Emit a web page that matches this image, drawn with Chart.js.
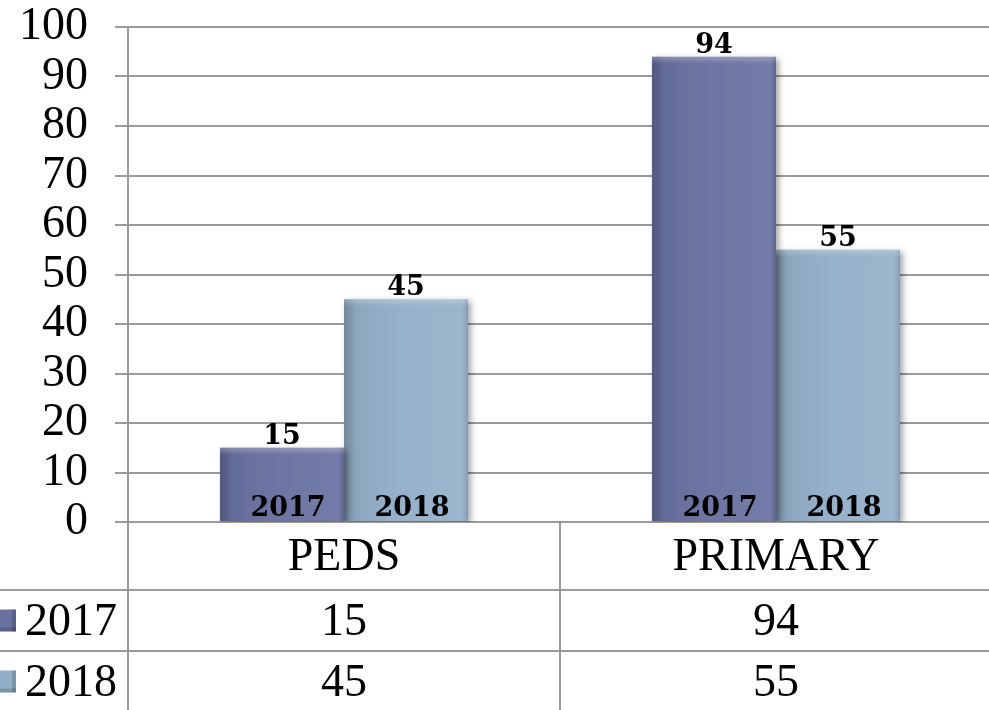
<!DOCTYPE html>
<html>
<head>
<meta charset="utf-8">
<script src="https://cdn.jsdelivr.net/npm/chart.js@4.4.1/dist/chart.umd.min.js"></script>
<style>
html,body{margin:0;padding:0;background:#fff;overflow:hidden}
#wrap{width:992px;height:710px;position:relative}
</style>
</head>
<body>
<div id="wrap"><canvas id="chart"></canvas></div>
<script>
const categories = ['PEDS','PRIMARY'];
const seriesNames = ['2017','2018'];
const values2017 = [15, 94];
const values2018 = [45, 55];
const yMin = 0, yMax = 100, yStep = 10;

const serif = "'Liberation Serif','Times New Roman',serif";
const boldSerif = "'DejaVu Serif',serif";
const colors = ['#6971a1','#93afc8'];
const lineGrey = '#9a9a9a';
const rowHeights = [68, 61, 61]; // category row, 2017 row, 2018 row

// shadow + bevel look on the bars
const barLook = {
  id:'barLook',
  beforeDatasetsDraw(chart){
    const c = chart.ctx; c.save();
    c.shadowColor='rgba(0,0,0,0.35)'; c.shadowBlur=6; c.shadowOffsetX=3; c.shadowOffsetY=2;
  },
  afterDatasetsDraw(chart){
    const c = chart.ctx; c.restore(); c.save();
    chart.data.datasets.forEach((ds,i)=>{
      chart.getDatasetMeta(i).data.forEach(el=>{
        const l = el.x-el.width/2, r = el.x+el.width/2, t = el.y, b = el.base;
        const g = c.createLinearGradient(l,0,r,0);
        g.addColorStop(0,'rgba(0,0,0,0.22)');
        g.addColorStop(0.1,'rgba(0,0,0,0.06)');
        g.addColorStop(0.5,'rgba(255,255,255,0.03)');
        g.addColorStop(0.95,'rgba(255,255,255,0.08)');
        g.addColorStop(1,'rgba(0,0,0,0.12)');
        c.fillStyle=g; c.fillRect(l,t,r-l,b-t);
        const gt = c.createLinearGradient(0,t,0,t+7);
        gt.addColorStop(0,'rgba(255,255,255,0.25)');
        gt.addColorStop(1,'rgba(255,255,255,0)');
        c.fillStyle=gt; c.fillRect(l,t,r-l,7);
      });
    });
    // value labels above, year labels inside at the bottom
    c.fillStyle='#000';
    c.font='bold 27px '+boldSerif;
    c.textAlign='center';
    chart.data.datasets.forEach((ds,i)=>{
      chart.getDatasetMeta(i).data.forEach((el,j)=>{
        c.textBaseline='alphabetic';
        c.fillText(String(ds.data[j]), el.x, el.y-4);
        c.fillText(ds.label, el.x+6, el.base-5);
      });
    });
    c.restore();
  }
};

// data table under the axis
const dataTable = {
  id:'dataTable',
  afterDraw(chart){
    const c = chart.ctx, xs = chart.scales.x, ys = chart.scales.y;
    const base = ys.getPixelForValue(0);
    const W = chart.width;
    c.save();
    c.strokeStyle=lineGrey; c.lineWidth=2;
    let yy = base;
    const rowMid = [];
    rowHeights.forEach((h,k)=>{
      rowMid.push(yy+h/2);
      yy += h;
      if(k<rowHeights.length-1){
        c.beginPath(); c.moveTo(0,yy); c.lineTo(W,yy); c.stroke();
      }
    });
    c.fillStyle='#000';
    c.font='46px '+serif;
    c.textAlign='center'; c.textBaseline='middle';
    categories.forEach((cat,i)=> c.fillText(cat, xs.getPixelForValue(i), rowMid[0]+2));
    chart.data.datasets.forEach((ds,i)=>{
      const my = rowMid[i+1];
      ds.data.forEach((v,j)=>{ c.fillStyle='#000'; c.fillText(String(v), xs.getPixelForValue(j), my+2); });
      // legend key
      c.fillStyle=colors[i]; c.fillRect(-6,my-11,22,22);
      c.fillStyle='rgba(0,0,0,0.15)'; c.fillRect(-6,my+7,22,4); c.fillRect(12,my-11,4,22);
      c.fillStyle='#000'; c.textAlign='left';
      c.fillText(ds.label, 25, my+2);
      c.textAlign='center';
    });
    c.restore();
  }
};

new Chart(document.getElementById('chart'),{
  type:'bar',
  data:{
    labels:categories,
    datasets:[
      {label:seriesNames[0], data:values2017, backgroundColor:colors[0], categoryPercentage:0.574, barPercentage:1},
      {label:seriesNames[1], data:values2018, backgroundColor:colors[1], categoryPercentage:0.574, barPercentage:1}
    ]
  },
  options:{
    responsive:true, maintainAspectRatio:false, animation:false,
    layout:{padding:{top:0,right:0,bottom:0,left:0}},
    plugins:{legend:{display:false},tooltip:{enabled:false}},
    scales:{
      x:{
        offset:true,
        grid:{offset:true, drawOnChartArea:false, drawTicks:true, tickLength:188, color:lineGrey, lineWidth:2},
        border:{display:false},
        ticks:{display:false}
      },
      y:{
        min:yMin, max:yMax,
        ticks:{stepSize:yStep, autoSkip:false, color:'#000', padding:27, font:{family:serif, size:46, lineHeight:1}},
        grid:{color:lineGrey, lineWidth:2, tickLength:13},
        border:{display:true, color:lineGrey, width:2},
        afterFit(s){ s.width = 128; s.paddingTop = 27; s.paddingBottom = 0; }
      }
    }
  },
  plugins:[barLook, dataTable]
});
</script>
</body>
</html>
